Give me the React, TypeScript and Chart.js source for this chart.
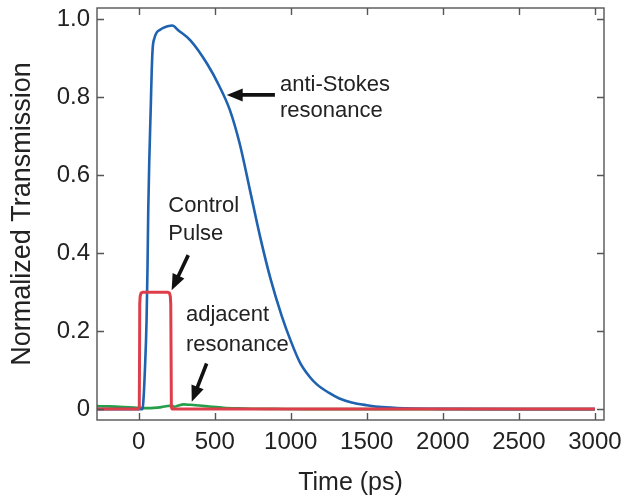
import React, { useEffect, useRef } from "react";
import { Chart, registerables } from "chart.js";

Chart.register(...registerables);

// ---- axis ticks ----
const xTicks = [0, 500, 1000, 1500, 2000, 2500, 3000];
const yTicks = [0, 0.2, 0.4, 0.6, 0.8, 1.0];
const xMin = -274;
const xMax = 3060;
const yMin = -0.028;
const yMax = 1.029;

// ---- anti-Stokes resonance (blue) ----
const antiStokesTime = [-274, 0, 25, 30, 41, 52, 58, 63, 70, 79, 86, 92, 104, 118, 140, 162, 190, 221, 260, 340, 450, 530, 600, 665, 730, 800, 870, 940, 1000, 1060, 1120, 1170, 1250, 1320, 1400, 1500, 1600, 1750, 2000, 2500, 3000];
const antiStokesValue = [0, 0, 0, 0.015, 0.1, 0.228, 0.36, 0.51, 0.64, 0.767, 0.87, 0.925, 0.952, 0.966, 0.973, 0.978, 0.982, 0.984, 0.972, 0.946, 0.886, 0.829, 0.767, 0.68, 0.565, 0.44, 0.33, 0.24, 0.175, 0.12, 0.085, 0.064, 0.042, 0.027, 0.017, 0.01, 0.005, 0.002, 0.0005, 0, 0];

// ---- control pulse (red) ----
const controlTime = [-274, 0, 4, 6, 7, 10, 16, 28, 190, 202, 208, 211, 213, 215, 219, 3000];
const controlValue = [0, 0, 0.005, 0.15, 0.27, 0.29, 0.298, 0.3, 0.3, 0.298, 0.29, 0.27, 0.15, 0.005, 0, 0];

// ---- adjacent resonance (green) ----
const adjacentTime = [-274, -200, -100, -30, 0, 50, 100, 150, 190, 215, 235, 260, 295, 340, 400, 480, 560, 650, 750, 900, 1100, 3000];
const adjacentValue = [0.0075, 0.007, 0.0055, 0.004, 0.003, 0.0025, 0.003, 0.005, 0.008, 0.009, 0.006, 0.009, 0.012, 0.011, 0.009, 0.006, 0.0035, 0.002, 0.001, 0.0005, 0, 0];

// ---- annotations (data coordinates) ----
const noteLabels = [
  { lines: ["anti-Stokes", "resonance"], x: 929, y: [0.816, 0.749] },
  { lines: ["Control", "Pulse"], x: 195, y: [0.506, 0.434] },
  { lines: ["adjacent", "resonance"], x: 311, y: [0.226, 0.149] },
];
const noteArrows = [
  { from: [896, 0.806], to: [579, 0.806] },
  { from: [326, 0.395], to: [217, 0.305] },
  { from: [447, 0.117], to: [349, 0.019] },
];

const FONT = "'Liberation Sans', Arial, Helvetica, sans-serif";
const FRAME = "#555555";

const toPoints = (xs: number[], ys: number[]) => xs.map((x, i) => ({ x, y: ys[i] }));

const framePlugin = {
  id: "frameTicks",
  afterDatasetsDraw(chart: any) {
    const { ctx, chartArea, scales } = chart;
    const { left, right, top, bottom } = chartArea;
    const xs = scales.x;
    const ys = scales.y;
    const TL = 7;
    ctx.save();
    ctx.strokeStyle = FRAME;
    ctx.lineWidth = 1.4;
    ctx.strokeRect(left, top, right - left, bottom - top);
    ctx.beginPath();
    for (const t of xs.ticks) {
      const px = Math.round(xs.getPixelForValue(t.value)) + 0.5;
      ctx.moveTo(px, bottom);
      ctx.lineTo(px, bottom - TL);
      ctx.moveTo(px, top);
      ctx.lineTo(px, top + TL);
    }
    for (const t of ys.ticks) {
      const py = Math.round(ys.getPixelForValue(t.value)) + 0.5;
      ctx.moveTo(left, py);
      ctx.lineTo(left + TL, py);
      ctx.moveTo(right, py);
      ctx.lineTo(right - TL, py);
    }
    ctx.stroke();
    ctx.restore();
  },
};

const annotationPlugin = {
  id: "notes",
  afterDraw(chart: any) {
    const { ctx, scales } = chart;
    const xs = scales.x;
    const ys = scales.y;
    ctx.save();
    ctx.fillStyle = "#222222";
    ctx.font = `22px ${FONT}`;
    ctx.textAlign = "left";
    ctx.textBaseline = "alphabetic";
    for (const n of noteLabels) {
      const px = xs.getPixelForValue(n.x);
      n.lines.forEach((line, i) => {
        ctx.fillText(line, px, ys.getPixelForValue(n.y[i]));
      });
    }
    ctx.strokeStyle = "#111111";
    ctx.fillStyle = "#111111";
    for (const a of noteArrows) {
      const x1 = xs.getPixelForValue(a.from[0]);
      const y1 = ys.getPixelForValue(a.from[1]);
      const x2 = xs.getPixelForValue(a.to[0]);
      const y2 = ys.getPixelForValue(a.to[1]);
      const ang = Math.atan2(y2 - y1, x2 - x1);
      const headLen = 16;
      const headW = 6.5;
      const bx = x2 - headLen * Math.cos(ang);
      const by = y2 - headLen * Math.sin(ang);
      ctx.lineWidth = 3.6;
      ctx.beginPath();
      ctx.moveTo(x1, y1);
      ctx.lineTo(bx + 2 * Math.cos(ang), by + 2 * Math.sin(ang));
      ctx.stroke();
      ctx.beginPath();
      ctx.moveTo(x2, y2);
      ctx.lineTo(bx - headW * Math.sin(ang), by + headW * Math.cos(ang));
      ctx.lineTo(bx + headW * Math.sin(ang), by - headW * Math.cos(ang));
      ctx.closePath();
      ctx.fill();
    }
    ctx.restore();
  },
};

export default function App() {
  const canvasRef = useRef<HTMLCanvasElement | null>(null);

  useEffect(() => {
    const canvas = canvasRef.current;
    if (!canvas) return;
    const chart = new Chart(canvas, {
      type: "line",
      data: {
        datasets: [
          {
            label: "Control Pulse",
            data: toPoints(controlTime, controlValue),
            borderColor: "rgb(222, 62, 74)",
            borderWidth: 3,
            pointRadius: 0,
            tension: 0.0001,
            borderJoinStyle: "round",
          },
          {
            label: "anti-Stokes resonance",
            data: toPoints(antiStokesTime, antiStokesValue),
            borderColor: "rgb(30, 98, 176)",
            borderWidth: 2.6,
            pointRadius: 0,
            cubicInterpolationMode: "monotone",
          },
          {
            label: "adjacent resonance",
            data: toPoints(adjacentTime, adjacentValue),
            borderColor: "rgb(36, 158, 72)",
            borderWidth: 2.6,
            pointRadius: 0,
            cubicInterpolationMode: "monotone",
          },
        ],
      },
      options: {
        responsive: false,
        animation: false,
        events: [],
        layout: { padding: { top: 8, right: 28, left: 0, bottom: 0 } },
        plugins: { legend: { display: false }, tooltip: { enabled: false } },
        scales: {
          x: {
            type: "linear",
            min: xMin,
            max: xMax,
            grid: { display: false, drawTicks: false },
            border: { display: false },
            afterBuildTicks: (s: any) => {
              s.ticks = xTicks.map((v) => ({ value: v }));
            },
            afterFit: (s: any) => {
              s.height = 78;
              s.paddingLeft = 0;
              s.paddingRight = 0;
            },
            ticks: {
              padding: 8,
              color: "#222222",
              font: { family: FONT, size: 24 },
              callback: (v: any) => String(v),
            },
            title: {
              display: true,
              text: "Time (ps)",
              color: "#222222",
              font: { family: FONT, size: 25 },
              padding: { top: 0, bottom: 0 },
            },
          },
          y: {
            type: "linear",
            min: yMin,
            max: yMax,
            grid: { display: false, drawTicks: false },
            border: { display: false },
            afterBuildTicks: (s: any) => {
              s.ticks = yTicks.map((v) => ({ value: v }));
            },
            afterFit: (s: any) => {
              s.width = 97;
              s.paddingTop = 0;
              s.paddingBottom = 0;
            },
            ticks: {
              padding: 7,
              color: "#222222",
              font: { family: FONT, size: 24 },
              callback: (v: any) => (Number(v) === 0 ? "0" : Number(v).toFixed(1)),
            },
            title: {
              display: true,
              text: "Normalized Transmission",
              color: "#222222",
              font: { family: FONT, size: 27 },
              padding: { top: 6, bottom: 0 },
            },
          },
        },
      },
      plugins: [framePlugin, annotationPlugin],
    });
    return () => chart.destroy();
  }, []);

  return (
    <div style={{ position: "fixed", left: 0, top: 0, width: 632, height: 498, background: "#ffffff" }}>
      <canvas ref={canvasRef} width={632} height={498} style={{ display: "block" }} />
    </div>
  );
}
